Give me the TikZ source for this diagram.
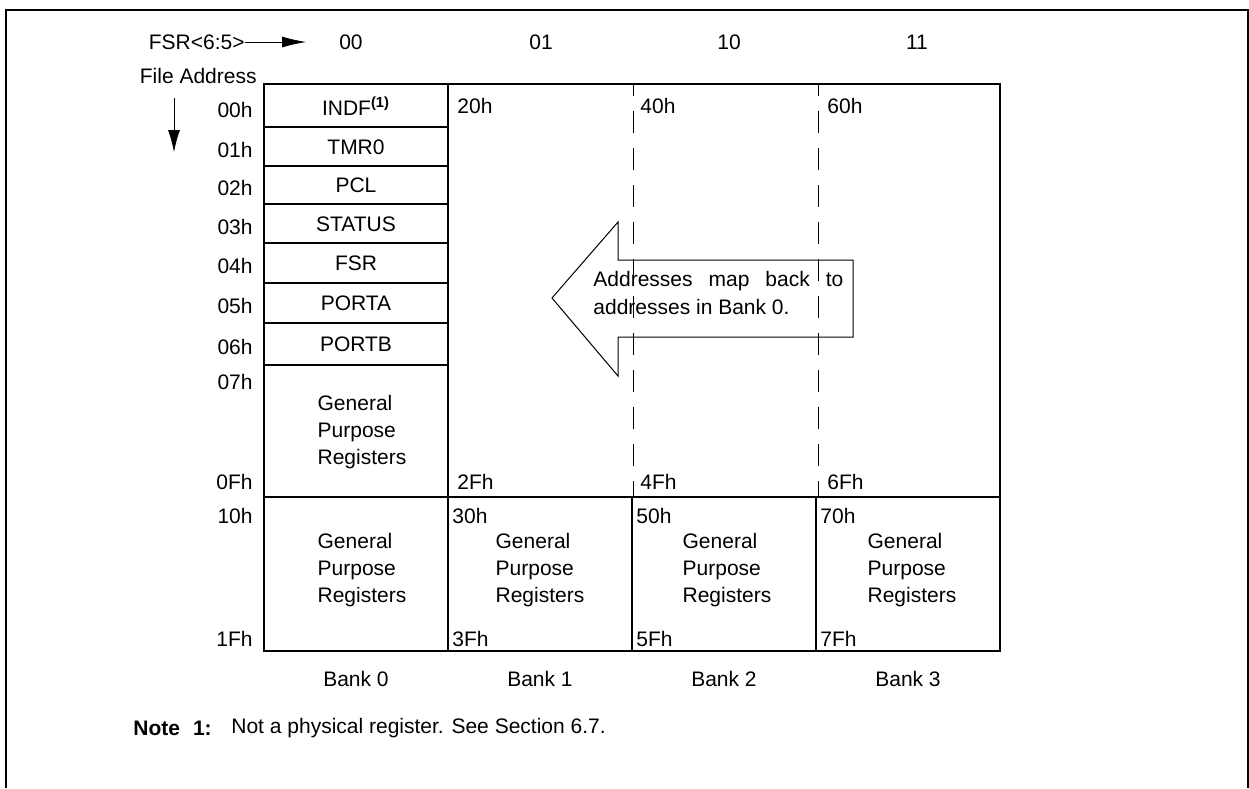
\documentclass[tikz,border=0pt]{standalone}
\usepackage{fontspec}
\setmainfont{Liberation Sans}
\usetikzlibrary{arrows.meta,positioning}

\begin{document}
\begin{tikzpicture}[x=0.5pt,y=-0.5pt,
  every node/.style={font=\fontsize{10.5}{13.3}\selectfont,inner sep=0pt},
  box/.style={line width=0.8pt},
  addr/.style={anchor=east},
  gpr/.style={align=left}]
\useasboundingbox (0,0) rectangle (1249,788);
\draw[line width=0.7pt] (6,788) -- (6,10) -- (1248,10) -- (1248,788);

% header
\node[anchor=east] (fsr) at (245,42) {FSR<6:5>};
\coordinate (fsrend) at (306,42);
\draw[-{Latex[length=12pt,width=5.5pt]}] (fsr.east) -- (fsrend);
\node (c00) at (351,42) {00};
\node (c01) at (541,42) {01};
\node (c10) at (729,42) {10};
\node (c11) at (917,42) {11};
\node[anchor=east] (fileaddr) at (257,76) {File Address};
\coordinate (fa1) at (174,98);
\coordinate (fa2) at (174,152);
\draw[-{Latex[length=11pt,width=6pt]}] (fa1) -- (fa2);

% bank 0
\draw[box] (264,84) rectangle (448,651);
\draw[box] (264,127) -- (448,127);
\draw[box] (264,166) -- (448,166);
\draw[box] (264,204) -- (448,204);
\draw[box] (264,243) -- (448,243);
\draw[box] (264,283) -- (448,283);
\draw[box] (264,323) -- (448,323);
\draw[box] (264,365) -- (448,365);
\draw[box] (264,497) -- (448,497);
\node (indf) at (356,106) {INDF\textsuperscript{\bfseries(1)}};
\node (tmr0) at (356,147) {TMR0};
\node (pcl) at (356,185) {PCL};
\node (status) at (356,224) {STATUS};
\node (fsrreg) at (356,263) {FSR};
\node (porta) at (356,303) {PORTA};
\node (portb) at (356,344) {PORTB};
\node[gpr] (gpr0a) at (362,432) {General\\Purpose\\Registers};
\node[gpr] (gpr0b) at (362,570) {General\\Purpose\\Registers};

% addresses
\node[addr] (a00) at (253,110) {00h};
\node[addr] (a01) at (253,150) {01h};
\node[addr] (a02) at (253,188) {02h};
\node[addr] (a03) at (253,227) {03h};
\node[addr] (a04) at (253,266) {04h};
\node[addr] (a05) at (253,306) {05h};
\node[addr] (a06) at (253,347) {06h};
\node[addr] (a07) at (253,382) {07h};
\node[addr] (a0f) at (253,482) {0Fh};
\node[addr] (a10) at (253,516) {10h};
\node[addr] (a1f) at (253,639) {1Fh};

% banks 1 to 3
\draw[box] (448,84) rectangle (1000,497);
\draw[box] (448,497) rectangle (1000,651);
\draw[box] (632,497) -- (632,651);
\draw[box] (816,497) -- (816,651);
\draw[line width=0.5pt,dash pattern=on 11pt off 7.5pt,dash phase=5pt] (633,84) -- (633,497);
\draw[line width=0.5pt,dash pattern=on 11pt off 7.5pt,dash phase=5pt] (818,84) -- (818,497);
\node[anchor=west] (a20) at (457,106) {20h};
\node[anchor=west] (a40) at (640,106) {40h};
\node[anchor=west] (a60) at (827,106) {60h};
\node[anchor=west] (a2f) at (457,482) {2Fh};
\node[anchor=west] (a4f) at (640,482) {4Fh};
\node[anchor=west] (a6f) at (827,482) {6Fh};
\node[anchor=west] (a30) at (452,516) {30h};
\node[anchor=west] (a50) at (636,516) {50h};
\node[anchor=west] (a70) at (820,516) {70h};
\node[anchor=west] (a3f) at (452,639) {3Fh};
\node[anchor=west] (a5f) at (636,639) {5Fh};
\node[anchor=west] (a7f) at (820,639) {7Fh};
\node[gpr] (gpr1) at (540,570) {General\\Purpose\\Registers};
\node[gpr] (gpr2) at (727,570) {General\\Purpose\\Registers};
\node[gpr] (gpr3) at (912,570) {General\\Purpose\\Registers};

% map-back arrow
\draw[line width=0.5pt] (552,298) -- (618,222) -- (618,260) -- (853,260)
  -- (853,337) -- (618,337) -- (618,376) -- cycle;
\node[anchor=west,align=left,font=\fontsize{10.5}{14}\selectfont] (maptxt) at (593,293)
  {\makebox[125pt][s]{Addresses map back to}\\addresses in Bank 0.};

% bank names
\node (bank0) at (356,679) {Bank 0};
\node (bank1) at (540,679) {Bank 1};
\node (bank2) at (724,679) {Bank 2};
\node (bank3) at (908,679) {Bank 3};

% note
\node[anchor=west] (note) at (133,728) {\bfseries Note\hspace{6.5pt}1:};
\node[anchor=west] (notetxt) at (231,728) {Not a physical register. See Section 6.7.};
\end{tikzpicture}
\end{document}
